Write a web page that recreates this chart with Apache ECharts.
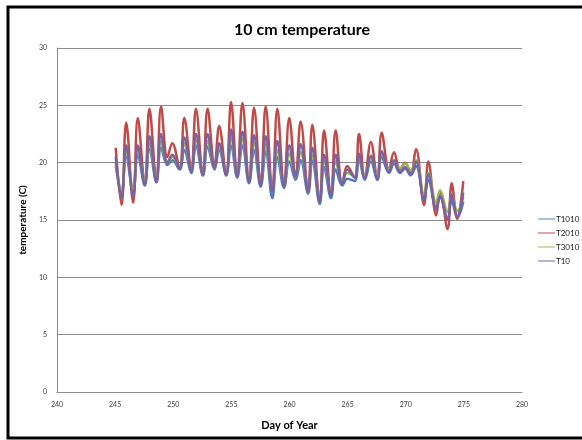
<!DOCTYPE html>
<html>
<head>
<meta charset="utf-8">
<script src="https://cdn.jsdelivr.net/npm/echarts@6/dist/echarts.min.js"></script>
<style>html,body{margin:0;padding:0;background:#fff;}#c{width:582px;height:440px;}</style>
</head>
<body>
<div id="c"></div>
<script>
// Day of year for each sample (alternating daily minimum / maximum)
var days = [245.05,
  245.55,245.95, 246.55,246.95, 247.55,247.95, 248.55,248.95, 249.5,249.92,
  250.55,250.95, 251.55,251.95, 252.55,252.95, 253.55,253.95, 254.55,254.97,
  255.5,255.95, 256.52,256.95, 257.52,257.95, 258.52,258.95, 259.53,259.98,
  260.53,260.96, 261.6,261.96, 262.6,262.97, 263.57,263.97, 264.54,264.97,
  265.6,265.98, 266.47,267.0, 267.55,267.93, 268.56,268.99, 269.51,269.94,
  270.43,270.88, 271.57,271.94, 272.62,272.95, 273.6,273.95, 274.43,274.95];

var T1010 = [19.8,
  17.3,20.5, 17.4,20.7, 18.0,21.2, 18.3,21.3, 19.8,20.2,
  19.4,21.1, 19.1,21.5, 18.9,21.4, 19.4,21.1, 18.9,21.5,
  18.7,21.5, 18.2,21.1, 17.9,21.0, 16.9,20.5, 17.8,20.1,
  18.5,20.2, 17.3,20.2, 16.4,19.6, 16.9,19.4, 18.0,18.6,
  18.4,20.3, 18.5,20.1, 18.5,20.5, 19.1,19.9, 19.1,19.5,
  18.9,19.7, 16.9,18.5, 16.1,17.0, 15.1,16.7, 15.2,16.6];

var T2010 = [21.3,
  16.3,23.5, 16.5,23.9, 18.2,24.7, 18.4,24.9, 20.5,21.7,
  19.5,23.9, 19.4,24.7, 18.9,24.7, 19.8,23.2, 18.9,25.3,
  18.8,25.2, 18.4,24.8, 18.1,24.9, 17.5,24.7, 18.0,23.9,
  18.8,23.6, 17.5,23.3, 16.6,22.8, 17.2,22.8, 18.2,19.7,
  18.7,22.5, 18.7,21.8, 18.6,22.6, 19.4,20.9, 19.4,20.0,
  19.1,21.2, 16.3,20.1, 15.4,17.5, 14.2,18.2, 15.1,18.4];

var T3010 = [20.0,
  17.6,21.0, 17.7,21.2, 18.4,21.7, 18.6,21.9, 20.0,20.5,
  19.6,21.7, 19.4,22.0, 19.1,21.9, 19.6,21.4, 19.1,22.2,
  19.0,22.1, 18.6,21.8, 18.3,21.6, 17.6,21.1, 18.2,20.8,
  18.8,20.9, 17.9,20.7, 17.0,20.2, 17.4,20.1, 18.4,19.1,
  18.8,20.5, 18.9,20.4, 18.8,20.8, 19.4,20.1, 19.5,19.9,
  19.3,20.2, 17.2,19.1, 16.5,17.6, 15.7,17.2, 15.8,17.0];

var T10 = [20.5,
  16.9,21.5, 17.0,21.5, 18.1,22.3, 18.3,22.5, 20.0,20.7,
  19.5,22.2, 19.3,22.5, 18.9,22.5, 19.6,21.7, 18.9,22.9,
  18.9,22.7, 18.3,22.4, 18.1,22.3, 17.5,21.9, 18.1,21.5,
  18.8,21.6, 17.6,21.3, 16.7,20.7, 17.2,20.7, 18.2,19.4,
  18.7,20.8, 18.7,20.6, 18.5,21.0, 19.2,20.2, 19.2,19.6,
  19.0,20.1, 16.7,19.0, 15.9,17.1, 15.0,17.2, 15.3,17.4];

var seriesNames = ['T1010','T2010','T3010','T10'];
var seriesData = [T1010, T2010, T3010, T10];
var colors = ['#4A7EBB','#BE4B48','#98B954','#7D60A0'];

function pairs(vals){ return days.map(function(d,i){ return [d, vals[i]]; }); }

var chart = echarts.init(document.getElementById('c'), null, {renderer:'canvas'});
var font = 'Lato, "Liberation Sans", sans-serif';
chart.setOption({
  animation: false,
  backgroundColor: '#fff',
  color: colors,
  title: {
    text: '10 cm temperature', left: 297, top: 17, textAlign: 'center',
    textStyle: {fontFamily: font, fontSize: 16, fontWeight: 'bold', color: '#000'}
  },
  legend: {
    orient: 'vertical', left: 538, top: 215, padding: 0,
    itemWidth: 17, itemHeight: 6, itemGap: 6,
    icon: 'path://M0,2.5 L17,2.5 L17,3.5 L0,3.5 Z',
    textStyle: {fontFamily: font, fontSize: 8, color: '#222', padding: [0,0,0,-4]},
    data: seriesNames
  },
  grid: {left: 57, right: 60, top: 48, bottom: 48, containLabel: false},
  xAxis: {
    type: 'value', min: 240, max: 280, interval: 5,
    name: 'Day of Year', nameLocation: 'middle', nameGap: 28,
    nameTextStyle: {fontFamily: font, fontSize: 11, fontWeight: 'bold', color: '#000'},
    axisLine: {lineStyle: {color: '#8c8c8c', width: 1}},
    axisTick: {show: false},
    splitLine: {show: false},
    axisLabel: {fontFamily: font, fontSize: 7, color: '#404040', margin: 9}
  },
  yAxis: {
    type: 'value', min: 0, max: 30, interval: 5,
    name: 'temperature (C)', nameLocation: 'middle', nameGap: 20, nameRotate: 90,
    nameTextStyle: {fontFamily: font, fontSize: 10, fontWeight: 'bold', color: '#000'},
    axisLine: {show: true, lineStyle: {color: '#8c8c8c', width: 1}},
    axisTick: {show: false},
    splitLine: {lineStyle: {color: '#8c8c8c', width: 1}},
    axisLabel: {fontFamily: font, fontSize: 7, color: '#404040', margin: 10}
  },
  graphic: [{
    type: 'rect', silent: true, z: 100,
    shape: {x: 8, y: 7, width: 640, height: 431},
    style: {fill: 'none', stroke: '#000', lineWidth: 3}
  }],
  series: seriesNames.map(function(n, i){
    return {
      name: n, type: 'line', data: pairs(seriesData[i]), showSymbol: false,
      smooth: 0.4, lineStyle: {width: 2.5, color: colors[i]}, z: 2 + i
    };
  })
});
</script>
</body>
</html>
